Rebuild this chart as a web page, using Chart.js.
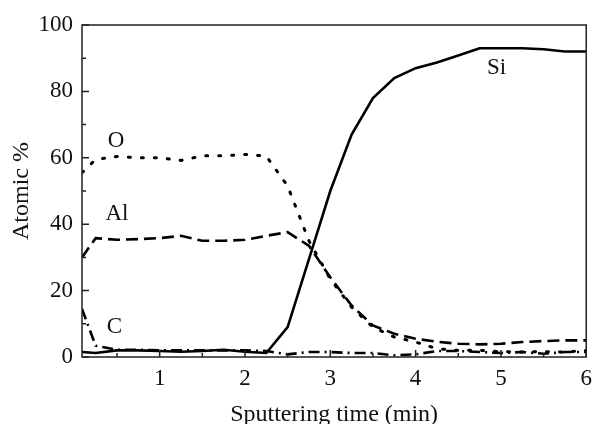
<!DOCTYPE html>
<html>
<head>
<meta charset="utf-8">
<script src="https://cdn.jsdelivr.net/npm/chart.js@4"></script>
<style>
  html, body { margin: 0; padding: 0; background: #fff; }
  #wrap { width: 600px; height: 424px; }
</style>
</head>
<body>
<div id="wrap"><canvas id="c" width="600" height="424"></canvas></div>
<script>
// sputtering time (min)
const times = [0.09, 0.25, 0.5, 0.75, 1.0, 1.25, 1.5, 1.75, 2.0, 2.25, 2.5, 2.75, 3.0,
               3.25, 3.5, 3.75, 4.0, 4.25, 4.5, 4.75, 5.0, 5.25, 5.5, 5.75, 6.0];
const siVals = [1.5, 1.2, 2.0, 2.0, 1.8, 1.6, 1.8, 2.2, 1.6, 1.2, 9, 29.5, 50,
                67, 78, 84, 87, 88.7, 90.8, 93, 93, 93, 92.7, 92, 92];
const oVals  = [55.5, 59.5, 60.4, 60, 60, 59.2, 60.6, 60.6, 61, 60.5, 51.5, 35, 23.5,
                15, 9, 6, 4.5, 2.5, 2, 2, 1.6, 1.5, 1.6, 1.5, 2];
const alVals = [30, 35.8, 35.3, 35.5, 35.8, 36.5, 35, 35, 35.3, 36.5, 37.6, 33.5, 24,
                15.5, 9.5, 7, 5.5, 4.6, 4, 3.8, 4, 4.5, 4.8, 5, 5];
const cVals  = [14.5, 3.4, 2.2, 2.2, 2.0, 2.0, 2.0, 2.0, 2.0, 1.8, 0.8, 1.5, 1.5,
                1.2, 1.2, 0.5, 0.8, 1.8, 1.8, 1.5, 1.2, 1.5, 1.0, 1.5, 1.5];
const xTicks = [1, 2, 3, 4, 5, 6];
const xMinor = [0.5, 1.5, 2.5, 3.5, 4.5, 5.5];
const yTicks = [0, 20, 40, 60, 80, 100];
const yMinor = [10, 30, 50, 70, 90];
const labels = [
  { text: 'O',  x: 0.49, y: 65 },
  { text: 'Al', x: 0.5,  y: 43 },
  { text: 'C',  x: 0.47, y: 9 },
  { text: 'Si', x: 4.95, y: 87 }
];

const pts = vals => times.map((t, i) => ({ x: t, y: vals[i] }));
const serif = "'Liberation Serif', 'Times New Roman', serif";
const ink = '#111';

// frame, inward ticks and curve labels
const decor = {
  id: 'decor',
  afterDraw(chart) {
    const { ctx, chartArea: a, scales: { x, y } } = chart;
    ctx.save();
    ctx.strokeStyle = '#222';
    ctx.lineWidth = 1.5;
    ctx.strokeRect(a.left, a.top, a.right - a.left, a.bottom - a.top);
    ctx.beginPath();
    xTicks.forEach(v => { const px = x.getPixelForValue(v); ctx.moveTo(px, a.bottom); ctx.lineTo(px, a.bottom - 7); });
    xMinor.forEach(v => { const px = x.getPixelForValue(v); ctx.moveTo(px, a.bottom); ctx.lineTo(px, a.bottom - 4); });
    yTicks.forEach(v => { const py = y.getPixelForValue(v); ctx.moveTo(a.left, py); ctx.lineTo(a.left + 7, py); });
    yMinor.forEach(v => { const py = y.getPixelForValue(v); ctx.moveTo(a.left, py); ctx.lineTo(a.left + 4, py); });
    ctx.stroke();
    ctx.fillStyle = ink;
    ctx.font = '23px ' + serif;
    ctx.textAlign = 'center';
    ctx.textBaseline = 'middle';
    labels.forEach(l => ctx.fillText(l.text, x.getPixelForValue(l.x), y.getPixelForValue(l.y)));
    ctx.restore();
  }
};

new Chart(document.getElementById('c'), {
  type: 'line',
  data: {
    datasets: [
      { label: 'Si', data: pts(siVals), borderColor: '#000', borderWidth: 2.6, pointRadius: 0, tension: 0 },
      { label: 'O', data: pts(oVals), borderColor: '#000', borderWidth: 3, borderDash: [2, 11], borderCapStyle: 'round', pointRadius: 0, tension: 0 },
      { label: 'Al', data: pts(alVals), borderColor: '#000', borderWidth: 2.6, borderDash: [12, 6], pointRadius: 0, tension: 0 },
      { label: 'C', data: pts(cVals), borderColor: '#000', borderWidth: 2.6, borderDash: [11, 5, 2, 5], pointRadius: 0, tension: 0 }
    ]
  },
  options: {
    responsive: false,
    animation: false,
    layout: { padding: { top: 25, right: 6, left: 0, bottom: 0 } },
    plugins: { legend: { display: false }, tooltip: { enabled: false } },
    scales: {
      x: {
        type: 'linear', min: 0.09, max: 6,
        afterBuildTicks: s => { s.ticks = xTicks.map(v => ({ value: v })); },
        afterFit: s => { s.height = 67; },
        grid: { display: false, drawTicks: false },
        border: { display: false },
        ticks: { color: ink, font: { family: serif, size: 23 }, padding: 8, maxRotation: 0 },
        title: { display: true, text: 'Sputtering time (min)', color: ink, font: { family: serif, size: 24, lineHeight: 0.75 }, padding: 0 }
      },
      y: {
        min: 0, max: 100,
        afterBuildTicks: s => { s.ticks = yTicks.map(v => ({ value: v })); },
        afterFit: s => { s.width = 82; },
        grid: { display: false, drawTicks: false },
        border: { display: false },
        ticks: { color: ink, font: { family: serif, size: 23 }, padding: 9 },
        title: { display: true, text: 'Atomic %', color: ink, font: { family: serif, size: 24, lineHeight: 1 }, padding: { top: 10, bottom: 0 } }
      }
    }
  },
  plugins: [decor]
});
</script>
</body>
</html>
